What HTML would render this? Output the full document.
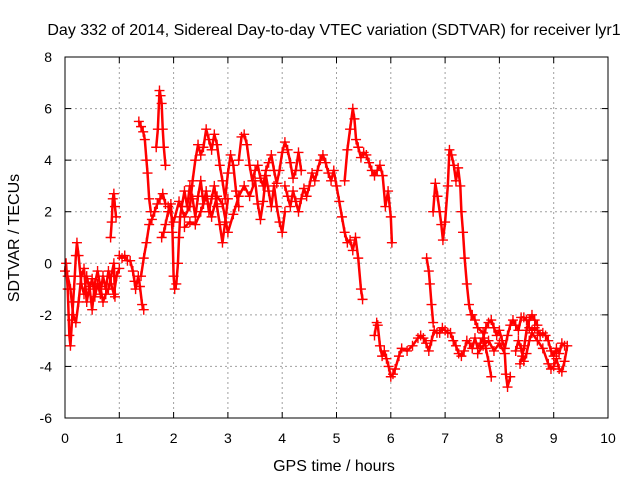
<!DOCTYPE html>
<html><head><meta charset="utf-8">
<style>
body{margin:0;background:#fff;}
svg{display:block;font-family:"Liberation Sans",sans-serif;}
</style></head>
<body>
<svg id="chart" width="640" height="480" viewBox="0 0 640 480" xmlns="http://www.w3.org/2000/svg">
<rect width="640" height="480" fill="#fff"/>
<text x="334" y="35" text-anchor="middle" font-size="16" fill="#000">Day 332 of 2014, Sidereal Day-to-day VTEC variation (SDTVAR) for receiver lyr1</text>
<g id="grid"></g>
<g id="ticks"></g>
<g id="marks"></g>
<rect x="65" y="57" width="543" height="361" fill="none" stroke="#000" stroke-width="1"/>
<text x="334" y="471" text-anchor="middle" font-size="16">GPS time / hours</text>
<text transform="translate(19,238) rotate(-90)" text-anchor="middle" font-size="16">SDTVAR / TECUs</text>
</svg>
<script>
const xTicks=[0,1,2,3,4,5,6,7,8,9,10];
const yTicks=[-6,-4,-2,0,2,4,6,8];
const track1=[[0,-0.3],[0.02,0],[0.05,-1],[0.08,-2.8],[0.1,-3.2],[0.13,-2.2],[0.15,-1.5],[0.18,-0.5],[0.2,0.3],[0.22,0.8],[0.25,0.3],[0.3,-0.8],[0.35,-1.2],[0.4,-0.5],[0.45,-1],[0.5,-0.6],[0.55,-1.3],[0.6,-0.8],[0.65,-1.2],[0.7,-0.5],[0.75,-1],[0.8,-0.3],[0.85,-0.8],[0.9,-1.2],[0.95,-0.5],[1.0,-0.2]];
const track2=[[0.05,-0.5],[0.1,-1],[0.15,-2],[0.2,-2.3],[0.25,-1.5],[0.3,-0.5],[0.35,-0.2],[0.4,-1.5],[0.45,-0.9],[0.5,-1.8],[0.55,-0.8],[0.6,-0.3],[0.65,-0.9],[0.7,-1.5],[0.75,-1.2],[0.8,-1],[0.85,-0.5],[0.9,0],[0.92,-1.3]];
const track3=[[0.84,1],[0.86,1.6],[0.88,2.5],[0.9,2.7],[0.92,2.2],[0.94,1.8]];
const track4=[[1.0,0.3],[1.05,0.2],[1.1,0.3],[1.15,0.1],[1.2,0.1],[1.25,-0.3],[1.28,-0.7],[1.3,-1],[1.35,-0.5],[1.38,-0.9],[1.42,-1.6],[1.45,-1.8]];
const track5=[[1.4,-0.5],[1.45,0.2],[1.5,0.8],[1.55,1.5],[1.6,1.7],[1.65,2],[1.7,2.3],[1.75,2.5],[1.8,2.7],[1.85,2.3]];
const track6=[[1.36,5.5],[1.4,5.3],[1.44,5.1],[1.47,4.8],[1.5,4],[1.52,3.5],[1.55,2.5],[1.58,2]];
const track7=[[1.68,4.5],[1.71,5.2],[1.74,6.7],[1.76,6.5],[1.78,6.2],[1.8,5.2],[1.82,4.5],[1.85,3.8]];
const track8=[[1.78,1],[1.82,1.2],[1.85,1.5],[1.9,2],[1.95,2.3],[1.98,1.2],[2.0,-0.5],[2.02,-1],[2.05,-0.8],[2.08,0],[2.1,1],[2.12,1.8],[2.15,2.2],[2.2,2.8],[2.25,2.2],[2.3,3],[2.35,2.5],[2.4,1.8],[2.45,2.6],[2.5,3.2],[2.55,2.3],[2.6,2.8],[2.65,2],[2.7,2.5],[2.75,3],[2.8,2.2],[2.85,1.5],[2.9,0.8],[2.95,1.6],[3.0,2.5]];
const track9=[[1.9,2.2],[2.0,1.6],[2.1,2.4],[2.2,1.8],[2.3,2.2],[2.35,3.2],[2.4,4],[2.45,4.6],[2.5,4.2],[2.55,4.5],[2.6,5.2],[2.65,4.8],[2.7,4.4],[2.75,5],[2.8,4.6],[2.85,3.8],[2.9,3.2],[2.95,2.5],[3.0,3.5],[3.05,4.2],[3.1,3.8],[3.15,2.8],[3.2,2.2]];
const track10=[[2.2,1.4],[2.3,1.6],[2.4,1.5],[2.5,2],[2.6,2.6],[2.7,1.8],[2.8,2.6],[2.9,2.3],[3.0,1.2],[3.1,1.9],[3.2,2.6],[3.3,3],[3.4,2.6],[3.5,3.2],[3.55,2.3],[3.6,1.7],[3.65,2.4],[3.7,3.4],[3.75,2.8],[3.8,2.2],[3.85,3],[3.9,2.2],[3.95,1.6],[4.0,1.2],[4.05,2]];
const track11=[[3.2,4],[3.25,4.9],[3.3,5],[3.35,4.6],[3.4,3.8],[3.45,3.2],[3.5,3.6],[3.55,3.8],[3.6,3.3],[3.65,3],[3.7,3.6],[3.75,3.9],[3.8,4.2],[3.85,3.6],[3.9,3.1],[3.95,3.6],[4.0,4.3],[4.05,4.7],[4.1,4.4],[4.15,3.9],[4.2,3.3],[4.25,3.6],[4.3,4.3],[4.35,3.6]];
const track12=[[4.05,3],[4.1,2.6],[4.15,2.2],[4.2,2.8],[4.25,2.4],[4.3,2],[4.35,2.5],[4.4,2.9],[4.45,2.6],[4.5,3],[4.55,3.5],[4.6,3.2],[4.65,3.6],[4.7,4],[4.75,4.2],[4.8,3.9],[4.85,3.5],[4.9,3.2],[4.95,3.6],[5.0,3],[5.05,2.4],[5.1,1.8],[5.15,1.2],[5.2,0.8],[5.25,0.9],[5.3,0.5],[5.35,1],[5.4,0.2],[5.45,-1],[5.48,-1.4]];
const track13=[[5.15,3.2],[5.2,4.4],[5.25,5.2],[5.3,6],[5.33,5.6],[5.36,4.8],[5.4,4.5],[5.45,4.1],[5.5,4.3],[5.55,4.2],[5.6,3.9],[5.65,3.6],[5.7,3.4],[5.75,3.6],[5.8,3.8],[5.85,3.4],[5.9,2.2],[5.95,2.8],[6.0,1.8],[6.02,0.8]];
const track14=[[5.7,-2.8],[5.74,-2.3],[5.76,-2.4],[5.8,-3.2],[5.84,-3.6],[5.88,-3.4],[5.92,-3.7],[5.96,-4],[6.0,-4.4],[6.04,-4.3],[6.08,-4.1],[6.15,-3.6],[6.2,-3.3],[6.3,-3.4],[6.4,-3.2],[6.5,-2.9],[6.55,-2.8],[6.6,-2.9],[6.65,-3.1],[6.7,-3.4],[6.75,-3],[6.8,-2.6],[6.85,-2.7],[6.9,-2.7],[6.95,-2.5],[7.0,-2.6],[7.05,-2.7],[7.1,-2.7],[7.15,-3],[7.2,-3.2],[7.25,-3.5],[7.3,-3.6],[7.35,-3.4],[7.4,-3],[7.45,-3.1],[7.5,-3.3],[7.55,-2.9],[7.6,-3.3],[7.65,-3.1],[7.7,-2.9],[7.75,-2.5],[7.8,-2.3],[7.85,-2.2],[7.9,-2.5],[7.95,-2.8],[8.0,-2.6],[8.05,-3],[8.1,-3.3],[8.15,-2.8],[8.2,-2.4],[8.25,-2.2],[8.3,-2.4],[8.35,-2.6],[8.4,-2.1],[8.45,-2.1],[8.5,-2.2],[8.55,-2.5],[8.6,-2.6],[8.65,-2.5],[8.7,-2.6],[8.75,-2.8],[8.8,-2.7],[8.85,-2.8],[8.9,-3],[8.95,-3.4],[9.0,-3.6],[9.05,-3.3],[9.1,-3.5],[9.15,-3.1],[9.2,-3.2]];
const track15=[[6.66,0.2],[6.7,-0.3],[6.72,-0.8],[6.75,-1.6],[6.78,-2.3]];
const track16=[[6.78,2],[6.82,3.1],[6.86,2.6],[6.9,2],[6.93,1.5],[6.96,0.9],[7.0,1.6],[7.05,3],[7.08,4.4],[7.12,4.2],[7.16,3.8],[7.2,3.2],[7.24,3.7],[7.28,3],[7.3,2],[7.33,1.2],[7.36,0.2],[7.4,-0.8],[7.44,-1.6],[7.48,-2]];
const track17=[[7.6,-3.5],[7.7,-3.2],[7.8,-3],[7.9,-3.4],[8.0,-3.1],[8.1,-3.5],[8.12,-4.3],[8.15,-4.8],[8.2,-4.4]];
const track18=[[7.5,-2],[7.55,-2.2],[7.6,-2.5],[7.7,-2.7],[7.75,-3.3],[7.8,-3.8],[7.85,-4.4]];
const track19=[[8.3,-3.4],[8.35,-3],[8.4,-3.3],[8.45,-3.8],[8.5,-3.5],[8.55,-3],[8.6,-2.7],[8.7,-3],[8.8,-3.3],[8.9,-3.9],[8.95,-4.1],[9.0,-4],[9.05,-3.7],[9.1,-4.1],[9.15,-4.2],[9.2,-3.8],[9.25,-3.2]];
const track20=[[8.38,-3.9],[8.42,-3.6],[8.46,-3.2],[8.5,-2.6],[8.55,-2.2],[8.6,-2],[8.65,-2.2],[8.7,-2.4]];
const tracks=[track1,track2,track3,track4,track5,track6,track7,track8,track9,track10,track11,track12,track13,track14,track15,track16,track17,track18,track19,track20];

const NS="http://www.w3.org/2000/svg";
const X0=65,X1=608,Y0=418,Y1=57;
function xs(t){return X0+(t-0)/(10-0)*(X1-X0);}
function ys(v){return Y0-(v+6)/(8+6)*(Y0-Y1);}
const grid=document.getElementById('grid');
const tk=document.getElementById('ticks');
function mk(tag,attrs,parent){const e=document.createElementNS(NS,tag);for(const k in attrs)e.setAttribute(k,attrs[k]);parent.appendChild(e);return e;}
xTicks.forEach(t=>{
  const x=xs(t);
  if(t>0&&t<10){const l=mk('line',{x1:x,x2:x,y1:Y1,y2:Y0,stroke:'#a0a0a0','stroke-dasharray':'2,3'},grid);
  
  }
  const m1=mk('line',{x1:x,x2:x,y1:Y0,y2:Y0-6,stroke:'#000'},grid);
  
  
  const m2=mk('line',{x1:x,x2:x,y1:Y1,y2:Y1+6,stroke:'#000'},grid);
  
  
  const tx=mk('text',{x:x,y:443,'text-anchor':'middle','font-size':14},tk);tx.textContent=t;
  
  
});
yTicks.forEach(v=>{
  const y=ys(v);
  if(v>-6&&v<8){const l=mk('line',{x1:X0,x2:X1,y1:y,y2:y,stroke:'#a0a0a0','stroke-dasharray':'2,3'},grid);
  
  }
  const m1=mk('line',{x1:X0,x2:X0+6,y1:y,y2:y,stroke:'#000'},grid);
  
  
  const m2=mk('line',{x1:X1,x2:X1-6,y1:y,y2:y,stroke:'#000'},grid);
  
  
  const tx=mk('text',{x:52,y:y+5,'text-anchor':'end','font-size':14},tk);tx.textContent=v;
  
  
});
const marks=document.getElementById('marks');
tracks.forEach((tr,i)=>{
  const pl=mk('polyline',{points:tr.map(p=>xs(p[0])+','+ys(p[1])).join(' '),fill:'none',stroke:'#ff0000','stroke-width':2.5,'stroke-linejoin':'round','stroke-linecap':'round'},marks);
  
  
  tr.forEach(p=>{
    const x=xs(p[0]),y=ys(p[1]);
    const pt=mk('path',{d:`M${x-5},${y}H${x+5}M${x},${y-5}V${y+5}`,stroke:'#ff0000','stroke-width':1.4},marks);
    
    
  });
});
</script>
</body></html>
